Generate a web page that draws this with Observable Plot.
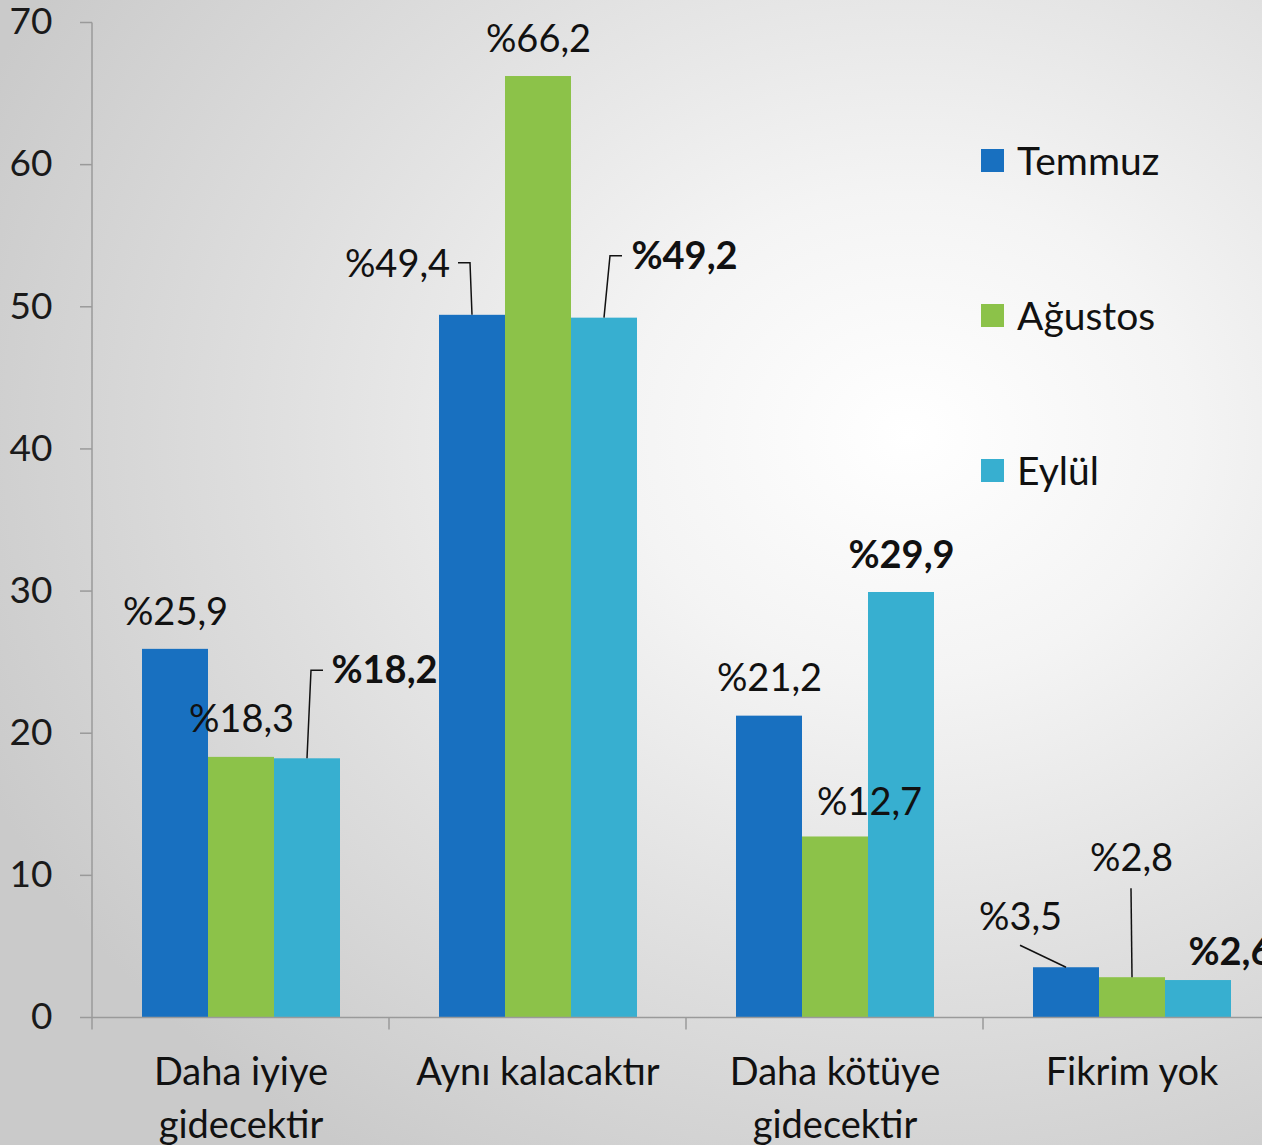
<!DOCTYPE html>
<html>
<head>
<meta charset="utf-8">
<script src="https://cdn.jsdelivr.net/npm/d3@7"></script>
<script src="https://cdn.jsdelivr.net/npm/@observablehq/plot@0.6"></script>
<style>
html, body { margin: 0; padding: 0; }
body {
  width: 1262px; height: 1145px; overflow: hidden;
  background: radial-gradient(ellipse 80% 75% at 72% 38%, #ffffff 0%, #f4f4f4 28%, #dedede 65%, #cacaca 100%);
  font-family: Lato, sans-serif;
}
#wrap { position: relative; width: 1262px; height: 1145px; }
#legend { position: absolute; left: 981px; top: 140px; display: flex; flex-direction: column; gap: 115px; }
.item { display: flex; align-items: center; height: 40px; font-size: 39px; color: #111; }
.sw { width: 23px; height: 23px; margin-right: 13px; }
</style>
</head>
<body>
<div id="wrap"><div id="legend"></div></div>
<script>
// ---- data ----
const categories = ["Daha iyiye gidecektir", "Aynı kalacaktır", "Daha kötüye gidecektir", "Fikrim yok"];
const tickLabels = ["Daha iyiye\ngidecektir", "Aynı kalacaktır", "Daha kötüye\ngidecektir", "Fikrim yok"];
const series = ["Temmuz", "Ağustos", "Eylül"];
const temmuz = [25.9, 49.4, 21.2, 3.5];
const agustos = [18.3, 66.2, 12.7, 2.8];
const eylul = [18.2, 49.2, 29.9, 2.6];
const yTicks = [0, 10, 20, 30, 40, 50, 60, 70];

// ---- styles ----
const colors = ["#1870C0", "#8CC249", "#37AFD0"];
const boldSeries = "Eylül";
// label offsets (px) from each bar's top centre, and optional leader polylines (px)
const labelPlacement = {
  "Temmuz": [
    {dx: 0, dy: -37},
    {dx: -75, dy: -50, leader: [[0, 0], [-2, -52], [-14, -52]]},
    {dx: 0, dy: -37},
    {dx: -46, dy: -50, leader: [[0, 0], [-46, -22]]}
  ],
  "Ağustos": [
    {dx: 0, dy: -38},
    {dx: 0, dy: -37},
    {dx: 34, dy: -34},
    {dx: -1, dy: -119, leader: [[0, 0], [-1, -89]]}
  ],
  "Eylül": [
    {dx: 77, dy: -88, leader: [[0, 0], [4, -88], [16, -88]]},
    {dx: 80, dy: -61, leader: [[0, 0], [6, -62], [18, -62]]},
    {dx: 0, dy: -37},
    {dx: 32, dy: -28}
  ]
};

const values = [temmuz, agustos, eylul];
const rows = [];
series.forEach((s, si) => categories.forEach((c, ci) =>
  rows.push({category: c, series: s, value: values[si][ci], place: labelPlacement[s][ci]})));

const fmt = v => "%" + v.toFixed(1).replace(".", ",");

const leaderRows = rows.filter(r => r.place.leader);

const labelMarks = rows.map(r => Plot.text([r], {
  fx: "category", x: "series", y: "value",
  text: d => fmt(d.value),
  dx: r.place.dx, dy: r.place.dy,
  fontSize: 38, fontWeight: r.series === boldSeries ? "bold" : "normal",
  lineAnchor: "middle", textAnchor: "middle", fill: "#111"
}));

const chart = Plot.plot({
  width: 1262,
  height: 1145,
  marginLeft: 92,
  marginRight: 0,
  marginTop: 22,
  marginBottom: 128,
  style: "background: transparent; overflow: visible; font-family: Lato, sans-serif;",
  fx: {domain: categories, range: [92, 1280], padding: 0, axis: null, label: null},
  x: {domain: series, paddingInner: 0, paddingOuter: 0.75, axis: null, label: null},
  y: {domain: [0, 70], range: [1017, 22], axis: null, label: null},
  color: {domain: series, range: colors},
  marks: [
    Plot.barY(rows, {fx: "category", x: "series", y: "value", fill: "series"}),
    Plot.ruleY(categories, {
      fx: d => d, y: d => 0, stroke: "#9a9a9a", strokeWidth: 1.5,
      render(index, scales, vals, dims, ctx, next) {
        const g = next(index, scales, vals, dims, ctx);
        const y0 = scales.y(0), yTop = scales.y(70);
        const left = dims.marginLeft;
        for (const i of index) {
          d3.select(g).append("line")
            .attr("x1", left).attr("x2", left).attr("y1", y0).attr("y2", y0 + 12)
            .attr("stroke", "#9a9a9a").attr("stroke-width", 1.5);
          if (i === 0) {
            d3.select(g).append("line")
              .attr("x1", left).attr("x2", left).attr("y1", yTop).attr("y2", y0)
              .attr("stroke", "#9a9a9a").attr("stroke-width", 1.5);
          }
        }
        return g;
      }
    }),
    Plot.axisY({ticks: yTicks, tickSize: 12, tickPadding: 28, fontSize: 37, stroke: "#9a9a9a", fill: "#1a1a1a", strokeWidth: 1.5, label: null}),
    Plot.axisFx({anchor: "bottom", tickSize: 0, tickPadding: 30, fontSize: 38, lineHeight: 1.4, fill: "#111",
      tickFormat: d => tickLabels[categories.indexOf(d)], label: null}),
    Plot.dot(leaderRows, {
      fx: "category", x: "series", y: "value", r: 0,
      render(index, scales, vals) {
        const g = d3.create("svg:g");
        const half = scales.x.bandwidth ? scales.x.bandwidth() / 2 : 0;
        for (const i of index) {
          const x0 = vals.x[i] + half, y0 = vals.y[i];
          const pts = leaderRows[i].place.leader.map(([a, b]) => [x0 + a, y0 + b]);
          g.append("path").attr("d", d3.line()(pts))
            .attr("fill", "none").attr("stroke", "#111").attr("stroke-width", 1.5);
        }
        return g.node();
      }
    }),
    ...labelMarks
  ]
});

document.getElementById("wrap").prepend(chart);

const legend = document.getElementById("legend");
series.forEach((s, i) => {
  const item = document.createElement("div");
  item.className = "item";
  const sw = document.createElement("div");
  sw.className = "sw";
  sw.style.background = colors[i];
  const t = document.createElement("span");
  t.textContent = s;
  item.append(sw, t);
  legend.append(item);
});
</script>
</body>
</html>
